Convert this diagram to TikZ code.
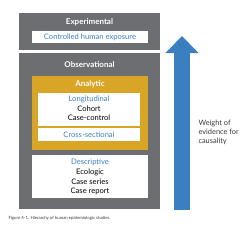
\documentclass[tikz,border=0pt]{standalone}
\usepackage{fontspec}
\setmainfont{Lato}
\usepackage{xcolor}
\usetikzlibrary{positioning,arrows.meta}

\definecolor{boxgray}{HTML}{6D6E71}
\definecolor{gold}{HTML}{D8A526}
\definecolor{textblue}{HTML}{3B7FC4}
\definecolor{arrowblue}{HTML}{3A80C0}
\definecolor{darktext}{HTML}{3A3A3A}

\begin{document}
\begin{tikzpicture}[
    x=1pt, y=-1pt,
    font=\fontsize{7.6}{9}\selectfont,
    panel/.style={rectangle, draw=none, fill=boxgray, inner sep=0pt, minimum width=141pt},
    goldbox/.style={rectangle, draw=none, fill=gold, inner sep=0pt, minimum width=116pt},
    whitebox/.style={rectangle, draw=none, fill=white, inner sep=0pt},
    head/.style={font=\fontsize{8}{9}\selectfont\bfseries, text=white},
    kind/.style={text=textblue},
    item/.style={text=black},
    bigarrow/.style={-{Triangle[width=32pt, length=17pt]}, line width=16pt, draw=arrowblue}
]

\useasboundingbox (0,0) rectangle (250,226);

% outer panels
\node[panel, minimum height=37pt] (expbox) at (89.5, 31.5) {};
\node[panel, minimum height=156pt] (obsbox) at (89.5, 131) {};

\node[head] (exp) at (89.5, 22) {Experimental};
\node[whitebox, minimum width=116pt, minimum height=12pt] (ctrl) at (90, 37) {};
\node[kind] at (ctrl) {Controlled human exposure};

\node[head] (obs) at (89.5, 65) {Observational};

% analytic
\node[goldbox, minimum height=74pt] (anabox) at (90, 113) {};
\node[head] (ana) at (90, 84) {Analytic};
\node[whitebox, minimum width=102pt, minimum height=33pt] (longbox) at (89, 109.5) {};
\node[kind] (long) at (89, 99) {Longitudinal};
\node[item] (cohort) at (89, 108.5) {Cohort};
\node[item] (cc) at (89, 118) {Case-control};
\node[whitebox, minimum width=102pt, minimum height=13pt] (crossbox) at (89, 134.5) {};
\node[kind] (cross) at (crossbox) {Cross-sectional};

% descriptive
\node[whitebox, minimum width=116pt, minimum height=43pt] (descbox) at (90, 176.5) {};
\node[kind] (desc) at (90, 162) {Descriptive};
\node[item] (eco) at (90, 172) {Ecologic};
\node[item] (series) at (90, 181.5) {Case series};
\node[item] (report) at (90, 191) {Case report};

% weight arrow
\coordinate (arrbot) at (182, 210);
\coordinate (arrtop) at (182, 36);
\draw[bigarrow] (arrbot) -- (arrtop);
\node[text=darktext, align=left, anchor=west, font=\fontsize{7.4}{9.4}\selectfont] (weight) at (195, 132.5)
  {Weight of\\evidence for\\causality};

\node[text=darktext, anchor=west, font=\fontsize{4.3}{5}\selectfont] (caption) at (5, 218)
  {Figure 4-1. Hierarchy of human epidemiologic studies.};

\end{tikzpicture}
\end{document}
